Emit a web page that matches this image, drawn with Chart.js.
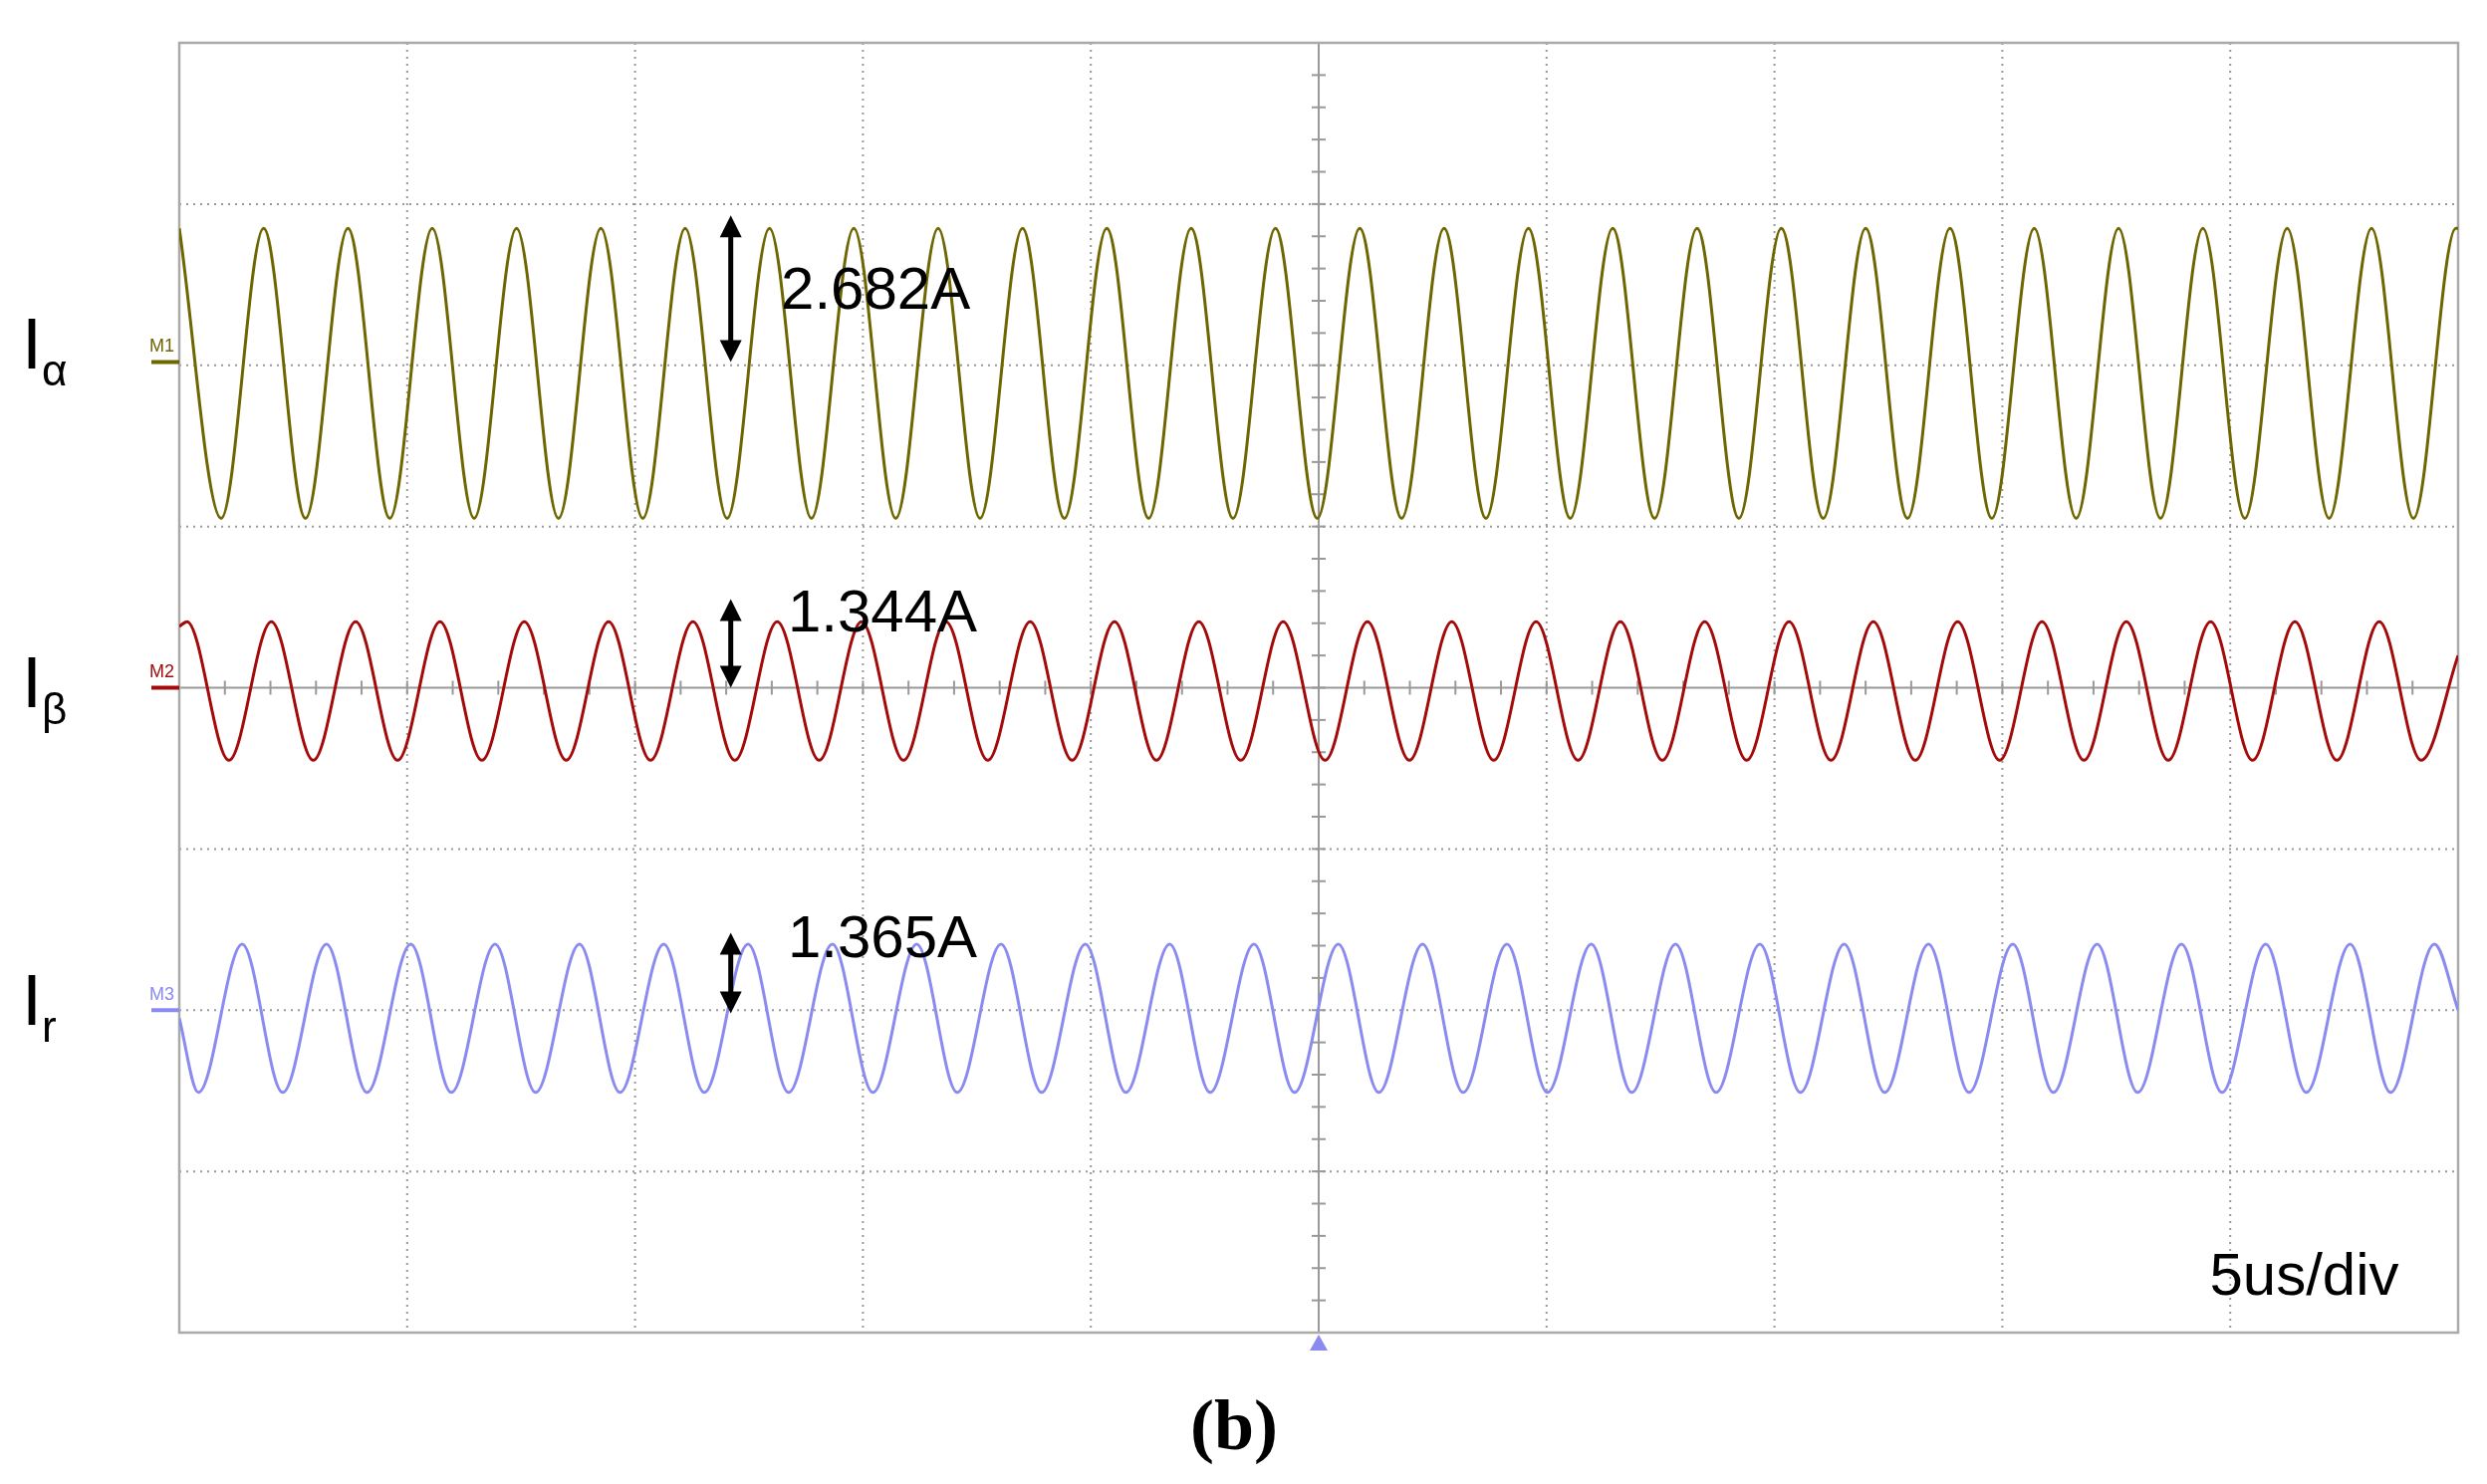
<!DOCTYPE html>
<html><head><meta charset="utf-8">
<script src="https://cdn.jsdelivr.net/npm/chart.js@4"></script>
<style>html,body{margin:0;padding:0;background:#fff}#w{width:2497px;height:1490px}</style>
</head><body><div id="w"><canvas id="c"></canvas></div>
<script>
// time in us (0..50, 5us/div), vertical in divisions (-4..4)
const alphaPeakTimes=[0.00,1.85,3.70,5.55,7.40,9.25,11.10,12.95,14.80,16.65,18.50,20.35,22.20,24.05,25.90,27.75,29.60,31.45,33.30,35.15,37.00,38.85,40.70,42.55,44.40,46.25,48.10,49.95];
const alphaTroughTimes=[0.92,2.77,4.62,6.47,8.32,10.17,12.02,13.87,15.72,17.57,19.42,21.27,23.12,24.97,26.82,28.67,30.52,32.37,34.22,36.07,37.92,39.77,41.62,43.47,45.32,47.17,49.02];
const alphaHigh=2.85, alphaLow=1.05;
const betaPeakTimes=[0.17,2.02,3.87,5.72,7.57,9.42,11.27,13.12,14.97,16.82,18.67,20.52,22.37,24.22,26.07,27.92,29.77,31.62,33.47,35.32,37.17,39.02,40.87,42.72,44.57,46.42,48.27];
const betaTroughTimes=[1.09,2.94,4.79,6.64,8.49,10.34,12.19,14.04,15.89,17.74,19.59,21.44,23.29,25.14,26.99,28.84,30.69,32.54,34.39,36.24,38.09,39.94,41.79,43.64,45.49,47.34,49.19];
const betaHigh=0.41, betaLow=-0.45;
const rPeakTimes=[1.38,3.23,5.08,6.93,8.78,10.63,12.48,14.33,16.18,18.03,19.88,21.73,23.58,25.43,27.28,29.13,30.98,32.83,34.68,36.53,38.38,40.23,42.08,43.93,45.78,47.63,49.48];
const rTroughTimes=[0.42,2.27,4.12,5.97,7.82,9.67,11.52,13.37,15.22,17.07,18.92,20.77,22.62,24.47,26.32,28.17,30.02,31.87,33.72,35.57,37.42,39.27,41.12,42.97,44.82,46.67,48.52];
const rHigh=-1.59, rLow=-2.51;
const startValues={alpha:2.85,beta:0.38,r:-2.05};
const endValues={alpha:2.85,beta:0.2,r:-2.0};
const labels=["I","I","I"], subs=["α","β","r"];
const amplitudes=["2.682A","1.344A","1.365A"];
const timebase="5us/div", caption="(b)";

function series(peaks,troughs,hi,lo,s,e){
  const pts=[{x:0,y:s}];
  peaks.forEach(t=>pts.push({x:t,y:hi}));
  troughs.forEach(t=>pts.push({x:t,y:lo}));
  pts.push({x:50,y:e});
  pts.sort((a,b)=>a.x-b.x);
  const out=[];pts.forEach(p=>{if(!out.length||p.x>out[out.length-1].x)out.push(p);});
  return out;
}
const colA='#6e6600', colB='#a30a0a', colR='#8a8af0';
const ds=(d,c)=>({data:d,borderColor:c,borderWidth:3,pointRadius:0,cubicInterpolationMode:'monotone',fill:false});

const deco={id:'deco',
 beforeDatasetsDraw(ch){
  const c=ch.ctx,x=ch.scales.x,y=ch.scales.y,a=ch.chartArea;
  c.save();
  c.strokeStyle='#999';c.lineWidth=2;c.setLineDash([2,5]);
  for(let i=1;i<10;i++){if(i==5)continue;const px=x.getPixelForValue(i*5);c.beginPath();c.moveTo(px,a.top);c.lineTo(px,a.bottom);c.stroke();}
  for(let j=-3;j<=3;j++){if(j==0)continue;const py=y.getPixelForValue(j);c.beginPath();c.moveTo(a.left,py);c.lineTo(a.right,py);c.stroke();}
  c.setLineDash([]);c.strokeStyle='#999';c.lineWidth=2;
  const cx=x.getPixelForValue(25),cy=y.getPixelForValue(0);
  c.beginPath();c.moveTo(cx,a.top);c.lineTo(cx,a.bottom);c.moveTo(a.left,cy);c.lineTo(a.right,cy);c.stroke();
  for(let i=0;i<=50;i+=1){const px=x.getPixelForValue(i);c.beginPath();c.moveTo(px,cy-7);c.lineTo(px,cy+7);c.stroke();}
  for(let j=-4;j<=4;j+=0.2){const py=y.getPixelForValue(j);c.beginPath();c.moveTo(cx-7,py);c.lineTo(cx+7,py);c.stroke();}
  c.strokeStyle='#aaa';c.lineWidth=2.5;c.strokeRect(a.left,a.top,a.right-a.left,a.bottom-a.top);
  c.restore();
 },
 afterDatasetsDraw(ch){
  const c=ch.ctx,x=ch.scales.x,y=ch.scales.y,a=ch.chartArea;
  c.save();
  [[2.02,colA,'M1'],[0,colB,'M2'],[-2.0,colR,'M3']].forEach(([v,col,t])=>{
    const py=y.getPixelForValue(v);c.strokeStyle=col;c.lineWidth=4;c.beginPath();c.moveTo(a.left-28,py);c.lineTo(a.left,py);c.stroke();
    c.fillStyle=col;c.font='18px "Liberation Sans"';c.textAlign='left';c.textBaseline='bottom';c.fillText(t,a.left-30,py-6);});
  const ax=x.getPixelForValue(12.1);
  [[2.93,2.02],[0.55,0.0],[-1.52,-2.02]].forEach(([t,b])=>{
    const y1=y.getPixelForValue(t),y2=y.getPixelForValue(b);
    c.strokeStyle='#000';c.fillStyle='#000';c.lineWidth=5;
    c.beginPath();c.moveTo(ax,y1+14);c.lineTo(ax,y2-14);c.stroke();
    c.beginPath();c.moveTo(ax,y1);c.lineTo(ax-11,y1+22);c.lineTo(ax+11,y1+22);c.fill();
    c.beginPath();c.moveTo(ax,y2);c.lineTo(ax-11,y2-22);c.lineTo(ax+11,y2-22);c.fill();
  });
  c.fillStyle='#000';c.font='60px "Liberation Sans"';c.textAlign='left';c.textBaseline='middle';
  c.fillText(amplitudes[0],x.getPixelForValue(13.2),y.getPixelForValue(2.45));
  c.fillText(amplitudes[1],x.getPixelForValue(13.35),y.getPixelForValue(0.45));
  c.fillText(amplitudes[2],x.getPixelForValue(13.35),y.getPixelForValue(-1.57));
  c.textAlign='right';c.fillText(timebase,x.getPixelForValue(48.7),y.getPixelForValue(-3.66));
  [[2.1,0],[0.0,1],[-1.97,2]].forEach(([v,i])=>{const py=y.getPixelForValue(v);
    c.textAlign='left';c.font='72px "Liberation Sans"';c.fillText(labels[i],22,py);
    c.font='44px "Liberation Sans"';c.fillText(subs[i],42,py+24);});
  const cx=x.getPixelForValue(25);c.fillStyle=colR;c.beginPath();c.moveTo(cx,a.bottom+2);c.lineTo(cx-9,a.bottom+18);c.lineTo(cx+9,a.bottom+18);c.fill();
  c.fillStyle='#000';c.font='bold 72px "Liberation Serif"';c.textAlign='center';c.fillText(caption,1239,1436);
  c.restore();
 }};

new Chart(document.getElementById('c'),{type:'line',
 data:{datasets:[
  ds(series(alphaPeakTimes,alphaTroughTimes,alphaHigh,alphaLow,startValues.alpha,endValues.alpha),colA),
  ds(series(betaPeakTimes,betaTroughTimes,betaHigh,betaLow,startValues.beta,endValues.beta),colB),
  ds(series(rPeakTimes,rTroughTimes,rHigh,rLow,startValues.r,endValues.r),colR)]},
 options:{responsive:true,maintainAspectRatio:false,animation:false,
  layout:{padding:{left:180,top:43,right:29,bottom:152}},
  plugins:{legend:{display:false},tooltip:{enabled:false}},
  scales:{x:{type:'linear',min:0,max:50,display:false},y:{min:-4,max:4,display:false}}},
 plugins:[deco]});
</script></body></html>
